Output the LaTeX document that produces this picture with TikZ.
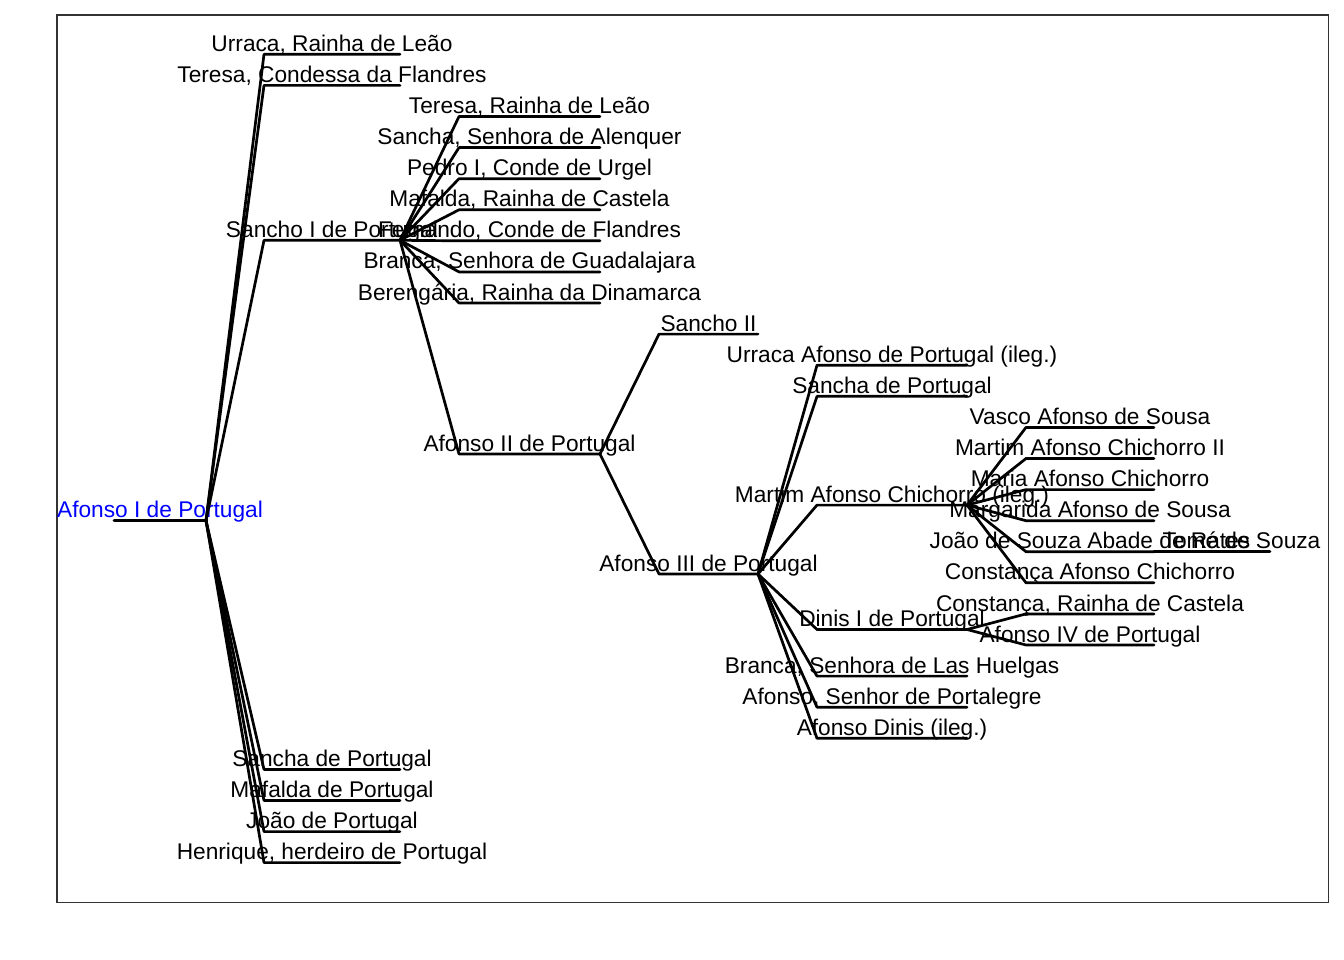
\documentclass[tikz,border=0pt]{standalone}
\usepackage{fontspec}
\setmainfont{Liberation Sans}
\begin{document}
\begin{tikzpicture}[x=1pt, y=-1pt,
		every node/.style={font=\fontsize{22.7}{27}\selectfont, inner sep=0pt, outer sep=0pt, anchor=south, text depth=2.9pt},
		person/.style={execute at begin node={\hbox to #1pt\bgroup\hss}, execute at end node={\hss\egroup}},
		link/.style={line width=2.7pt, line cap=round, line join=round}]
		\useasboundingbox (0,0) rectangle (1344,960);
		\draw[black!80, line width=1.4pt] (57,15) rectangle (1328.5,902.5);

		\node[person=92, text=blue] (afonsoI) at (160,520.6) {Afonso I de Portugal};

		\node[person=136] (urracaLeao) at (332,54.3) {Urraca, Rainha de Leão};
		\node[person=136] (teresaFlandres) at (332,85.4) {Teresa, Condessa da Flandres};
		\node[person=136] (sanchoI) at (332,240.3) {Sancho I de Portugal};
		\node[person=136] (sanchaP) at (332,769.4) {Sancha de Portugal};
		\node[person=136] (mafaldaP) at (332,800.5) {Mafalda de Portugal};
		\node[person=136] (joaoP) at (332,831.6) {João de Portugal};
		\node[person=136] (henrique) at (332,862.6) {Henrique, herdeiro de Portugal};

		\node[person=141] (teresaLeao) at (529.5,116.5) {Teresa, Rainha de Leão};
		\node[person=141] (sanchaAlenquer) at (529.5,147.6) {Sancha, Senhora de Alenquer};
		\node[person=141] (pedroUrgel) at (529.5,178.7) {Pedro I, Conde de Urgel};
		\node[person=141] (mafaldaCastela) at (529.5,209.8) {Mafalda, Rainha de Castela};
		\node[person=141] (fernando) at (529.5,240.8) {Fernando, Conde de Flandres};
		\node[person=141] (brancaGuadalajara) at (529.5,271.9) {Branca, Senhora de Guadalajara};
		\node[person=141] (berengaria) at (529.5,303.0) {Berengária, Rainha da Dinamarca};
		\node[person=141] (afonsoII) at (529.5,454.0) {Afonso II de Portugal};

		\node[person=99] (sanchoII) at (708.5,334.1) {Sancho II};
		\node[person=99] (afonsoIII) at (708.5,574.0) {Afonso III de Portugal};

		\node[person=150] (urracaAfonso) at (892,365.2) {Urraca Afonso de Portugal (ileg.)};
		\node[person=150] (sanchaPII) at (892,396.3) {Sancha de Portugal};
		\node[person=150] (martim) at (892,505.1) {Martim Afonso Chichorro (ileg.)};
		\node[person=150] (dinis) at (892,629.5) {Dinis I de Portugal};
		\node[person=150] (brancaHuelgas) at (892,676.1) {Branca, Senhora de Las Huelgas};
		\node[person=150] (afonsoPortalegre) at (892,707.2) {Afonso, Senhor de Portalegre};
		\node[person=150] (afonsoDinis) at (892,738.3) {Afonso Dinis (ileg.)};

		\node[person=128] (vasco) at (1090,427.4) {Vasco Afonso de Sousa};
		\node[person=128] (martimII) at (1090,458.5) {Martim Afonso Chichorro II};
		\node[person=128] (maria) at (1090,489.6) {Maria Afonso Chichorro};
		\node[person=128] (margarida) at (1090,520.7) {Margarida Afonso de Sousa};
		\node[person=128] (joaoSouza) at (1090,551.7) {João de Souza Abade de Rates};
		\node[person=128] (constancaA) at (1090,582.8) {Constança Afonso Chichorro};
		\node[person=128] (constancaCastela) at (1090,613.9) {Constança, Rainha de Castela};
		\node[person=128] (afonsoIV) at (1090,645.0) {Afonso IV de Portugal};

		\node[person=57] (tome) at (1241.5,551.7) {Tomé de Souza};

		\draw[link] (afonsoI.south west) -- (afonsoI.south east);

		\draw[link] (afonsoI.south east) -- (urracaLeao.south west) -- (urracaLeao.south east);
		\draw[link] (afonsoI.south east) -- (teresaFlandres.south west) -- (teresaFlandres.south east);
		\draw[link] (afonsoI.south east) -- (sanchoI.south west) -- (sanchoI.south east);
		\draw[link] (afonsoI.south east) -- (sanchaP.south west) -- (sanchaP.south east);
		\draw[link] (afonsoI.south east) -- (mafaldaP.south west) -- (mafaldaP.south east);
		\draw[link] (afonsoI.south east) -- (joaoP.south west) -- (joaoP.south east);
		\draw[link] (afonsoI.south east) -- (henrique.south west) -- (henrique.south east);

		\draw[link] (sanchoI.south east) -- (teresaLeao.south west) -- (teresaLeao.south east);
		\draw[link] (sanchoI.south east) -- (sanchaAlenquer.south west) -- (sanchaAlenquer.south east);
		\draw[link] (sanchoI.south east) -- (pedroUrgel.south west) -- (pedroUrgel.south east);
		\draw[link] (sanchoI.south east) -- (mafaldaCastela.south west) -- (mafaldaCastela.south east);
		\draw[link] (sanchoI.south east) -- (fernando.south west) -- (fernando.south east);
		\draw[link] (sanchoI.south east) -- (brancaGuadalajara.south west) -- (brancaGuadalajara.south east);
		\draw[link] (sanchoI.south east) -- (berengaria.south west) -- (berengaria.south east);
		\draw[link] (sanchoI.south east) -- (afonsoII.south west) -- (afonsoII.south east);

		\draw[link] (afonsoII.south east) -- (sanchoII.south west) -- (sanchoII.south east);
		\draw[link] (afonsoII.south east) -- (afonsoIII.south west) -- (afonsoIII.south east);

		\draw[link] (afonsoIII.south east) -- (urracaAfonso.south west) -- (urracaAfonso.south east);
		\draw[link] (afonsoIII.south east) -- (sanchaPII.south west) -- (sanchaPII.south east);
		\draw[link] (afonsoIII.south east) -- (martim.south west) -- (martim.south east);
		\draw[link] (afonsoIII.south east) -- (dinis.south west) -- (dinis.south east);
		\draw[link] (afonsoIII.south east) -- (brancaHuelgas.south west) -- (brancaHuelgas.south east);
		\draw[link] (afonsoIII.south east) -- (afonsoPortalegre.south west) -- (afonsoPortalegre.south east);
		\draw[link] (afonsoIII.south east) -- (afonsoDinis.south west) -- (afonsoDinis.south east);

		\draw[link] (martim.south east) -- (vasco.south west) -- (vasco.south east);
		\draw[link] (martim.south east) -- (martimII.south west) -- (martimII.south east);
		\draw[link] (martim.south east) -- (maria.south west) -- (maria.south east);
		\draw[link] (martim.south east) -- (margarida.south west) -- (margarida.south east);
		\draw[link] (martim.south east) -- (joaoSouza.south west) -- (joaoSouza.south east);
		\draw[link] (martim.south east) -- (constancaA.south west) -- (constancaA.south east);

		\draw[link] (dinis.south east) -- (constancaCastela.south west) -- (constancaCastela.south east);
		\draw[link] (dinis.south east) -- (afonsoIV.south west) -- (afonsoIV.south east);

		\draw[link] (joaoSouza.south east) -- (tome.south west) -- (tome.south east);
	\end{tikzpicture}
\end{document}
